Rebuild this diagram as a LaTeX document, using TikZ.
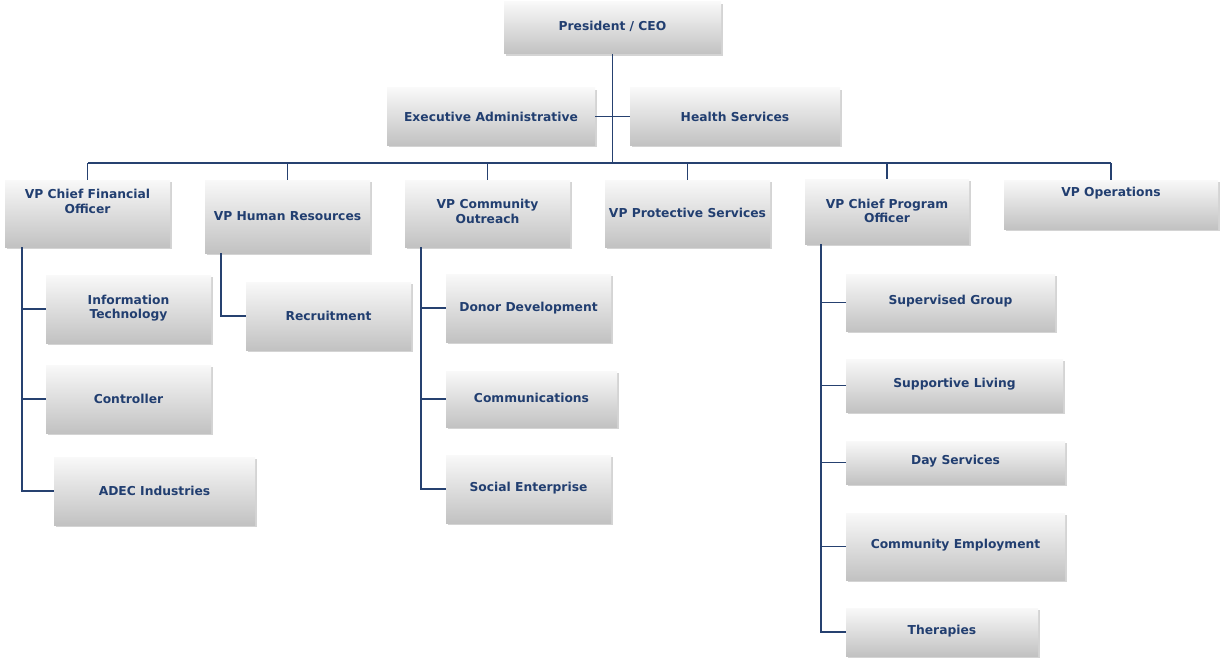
\documentclass[tikz,border=0pt]{standalone}
\usepackage{fontspec}
\setmainfont{DejaVu Sans}
\usetikzlibrary{shadows}
\definecolor{txtblue}{RGB}{33,62,112}
\definecolor{lineblue}{RGB}{38,65,112}
\tikzset{
  orgbox/.style={rectangle, draw=none, top color=gray!5, bottom color=gray!48,
    drop shadow={shadow xshift=1.5pt, shadow yshift=-2.2pt, opacity=0.4, fill=gray!85},
    inner sep=0pt},
  orgtxt/.style={text=txtblue, font=\bfseries\fontsize{12.3}{14.5}\selectfont, align=center, inner sep=0pt},
  link/.style={draw=lineblue, line width=1.8pt},
  sublink/.style={draw=lineblue, line width=1.4pt},
}
% \orgnode{name}{x1}{y1}{x2}{y2}
\newcommand{\orgnode}[5]{%
  \node[orgbox, minimum width={#4-#2}, minimum height={#5-#3}] (#1) at ({(#2+#4)/2},{(#3+#5)/2}) {};}
\begin{document}
\begin{tikzpicture}[x=1pt,y=-1pt]
\useasboundingbox (0,0) rectangle (1220,658);
% boxes
\orgnode{ceo}{504}{2}{721}{54}
\orgnode{exec}{387}{88}{595}{145}
\orgnode{health}{630}{88}{840}{145}
\orgnode{cfo}{5}{180}{170}{247}
\orgnode{hr}{205}{180}{370}{253}
\orgnode{co}{405}{180}{570}{247}
\orgnode{prot}{605}{180}{770}{247}
\orgnode{cpo}{805}{179}{969}{244}
\orgnode{ops}{1004}{180}{1218}{229}
\orgnode{it}{46}{275}{211}{343}
\orgnode{ctrl}{46}{365}{211}{433}
\orgnode{adec}{54}{457}{255}{525}
\orgnode{rec}{246}{282}{411}{350}
\orgnode{donor}{446}{274}{611}{342}
\orgnode{comm}{446}{371}{617}{427}
\orgnode{social}{446}{455}{611}{523}
\orgnode{sup}{846}{274}{1055}{331}
\orgnode{live}{846}{359}{1063}{412}
\orgnode{day}{846}{441}{1065}{484}
\orgnode{emp}{846}{513}{1065}{580}
\orgnode{ther}{846}{608}{1038}{656}
% texts
\node[orgtxt] (ceo-t) at (612.5,26.5) {President / CEO};
\node[orgtxt] (exec-t) at (491,116.5) {Executive Administrative};
\node[orgtxt] (health-t) at (735,116.5) {Health Services};
\node[orgtxt] (cfo-t) at (87.5,201.5) {VP Chief Financial\\Officer};
\node[orgtxt] (hr-t) at (287.5,216.5) {VP Human Resources};
\node[orgtxt] (co-t) at (487.5,211.5) {VP Community\\Outreach};
\node[orgtxt] (prot-t) at (687.5,212.5) {VP Protective Services};
\node[orgtxt] (cpo-t) at (887,211) {VP Chief Program\\Officer};
\node[orgtxt] (ops-t) at (1111,193.5) {VP Operations};
\node[orgtxt] (it-t) at (128.5,308) {Information\\Technology};
\node[orgtxt] (ctrl-t) at (128.5,398.5) {Controller};
\node[orgtxt] (adec-t) at (154.5,490.5) {ADEC Industries};
\node[orgtxt] (rec-t) at (328.5,315.5) {Recruitment};
\node[orgtxt] (donor-t) at (528.5,308.5) {Donor Development};
\node[orgtxt] (comm-t) at (531.5,397.5) {Communications};
\node[orgtxt] (social-t) at (528.5,488.5) {Social Enterprise};
\node[orgtxt] (sup-t) at (950.5,301.5) {Supervised Group};
\node[orgtxt] (live-t) at (954.5,384.5) {Supportive Living};
\node[orgtxt] (day-t) at (955.5,461.5) {Day Services};
\node[orgtxt] (emp-t) at (955.5,545.5) {Community Employment};
\node[orgtxt] (ther-t) at (942,631.5) {Therapies};
% connectors
\coordinate (busL) at (88,163);
\coordinate (busR) at (1111,163);
\draw[link] (ceo.south) -- (ceo.south |- busL);
\draw[link] (busL) -- (busR);
\draw[link] (exec.east) -- (health.west);
\foreach \n in {cfo,hr,co,prot,cpo,ops}
  \draw[link] (\n.north) -- (\n.north |- busL);
% CFO branch
\coordinate (cfoS) at (22,247);
\draw[sublink] (cfoS) |- (adec.west);
\draw[sublink] (it.west) -- (it.west -| cfoS);
\draw[sublink] (ctrl.west) -- (ctrl.west -| cfoS);
% HR branch
\coordinate (hrS) at (221,253);
\draw[sublink] (hrS) |- (rec.west);
% CO branch
\coordinate (coS) at (421,247);
\draw[sublink] (coS) |- (social.west);
\draw[sublink] (donor.west) -- (donor.west -| coS);
\draw[sublink] (comm.west) -- (comm.west -| coS);
% CPO branch
\coordinate (cpoS) at (821,244);
\draw[sublink] (cpoS) |- (ther.west);
\foreach \n in {sup,live,day,emp}
  \draw[sublink] (\n.west) -- (\n.west -| cpoS);
\end{tikzpicture}
\end{document}
